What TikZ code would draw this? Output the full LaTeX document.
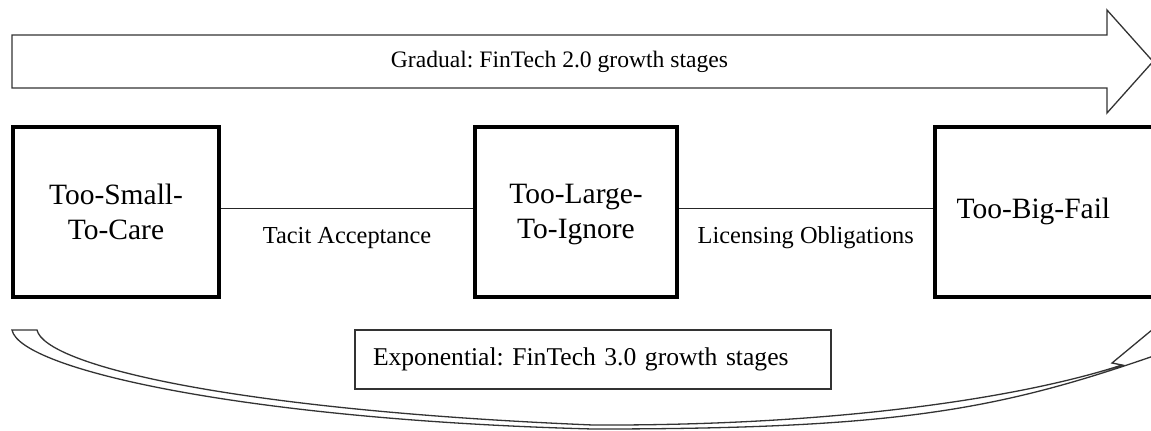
\documentclass[tikz,border=0pt]{standalone}
\usepackage{fontspec}
\setmainfont{Liberation Serif}
\usetikzlibrary{positioning,calc}
\frenchspacing

\begin{document}
\begin{tikzpicture}[x=0.5pt, y=-0.5pt,
    stage/.style={rectangle, draw, line width=2pt, align=center, minimum width=103pt, minimum height=85pt, font=\fontsize{14.75}{17.5}\selectfont},
    lbl/.style={font=\fontsize{12.2}{14}\selectfont},
    outline/.style={draw=black!80, line width=0.65pt, line join=miter}]
    \useasboundingbox (0,0) rectangle (1151,430);
    \clip (0,0) rectangle (1151,430);

    % gradual arrow
    \draw[outline] (12,35) -- (1107,35) -- (1107,10) -- (1153,61.5) -- (1107,113) -- (1107,88) -- (12,88) -- cycle;
    \node[font=\fontsize{11.8}{14}\selectfont] (gradual) at (559.5,61.5) {Gradual: FinTech 2.0 growth stages};

    % stages
    \node[stage] (small) at (116,211.75) {Too-Small-\\To-Care};
    \node[stage, minimum width=101pt, text depth=0pt] (large) at (576,211.75) {Too-Large-\\To-Ignore};
    \node[stage, align=left, inner xsep=11pt, text width=95.75pt] (big) at (1052.25,211.75) {Too-Big-Fail};

    \draw[black!85, line width=0.65pt] ([yshift=1.8pt]small.east) -- node[lbl, text=black, midway, yshift=-15pt] (tacit) {Tacit Acceptance} ([yshift=1.8pt]large.west);
    \draw[black!85, line width=0.65pt] ([yshift=1.8pt]large.east) -- node[lbl, text=black, midway, yshift=-15pt] (licence) {Licensing Obligations} ([yshift=1.8pt]big.west);

    % exponential arrow
    \draw[outline] (37,330) -- (12,330) .. controls (20,370) and (250,420) .. (593,429)
        .. controls (900,429) and (1000,410) .. (1165,352) -- (1170,315) -- (1112,363) -- (1122,365)
        .. controls (1030,395) and (850,426) .. (593,425)
        .. controls (230,410) and (45,365) .. (37,330) -- cycle;
    \node[draw=black!80, line width=0.6pt, font=\fontsize{12.8}{15}\selectfont, align=left, text width=220pt, inner xsep=9pt, minimum height=29.5pt] (exp) at (593,359.5) {Exponential: FinTech 3.0 growth stages};
\end{tikzpicture}
\end{document}
